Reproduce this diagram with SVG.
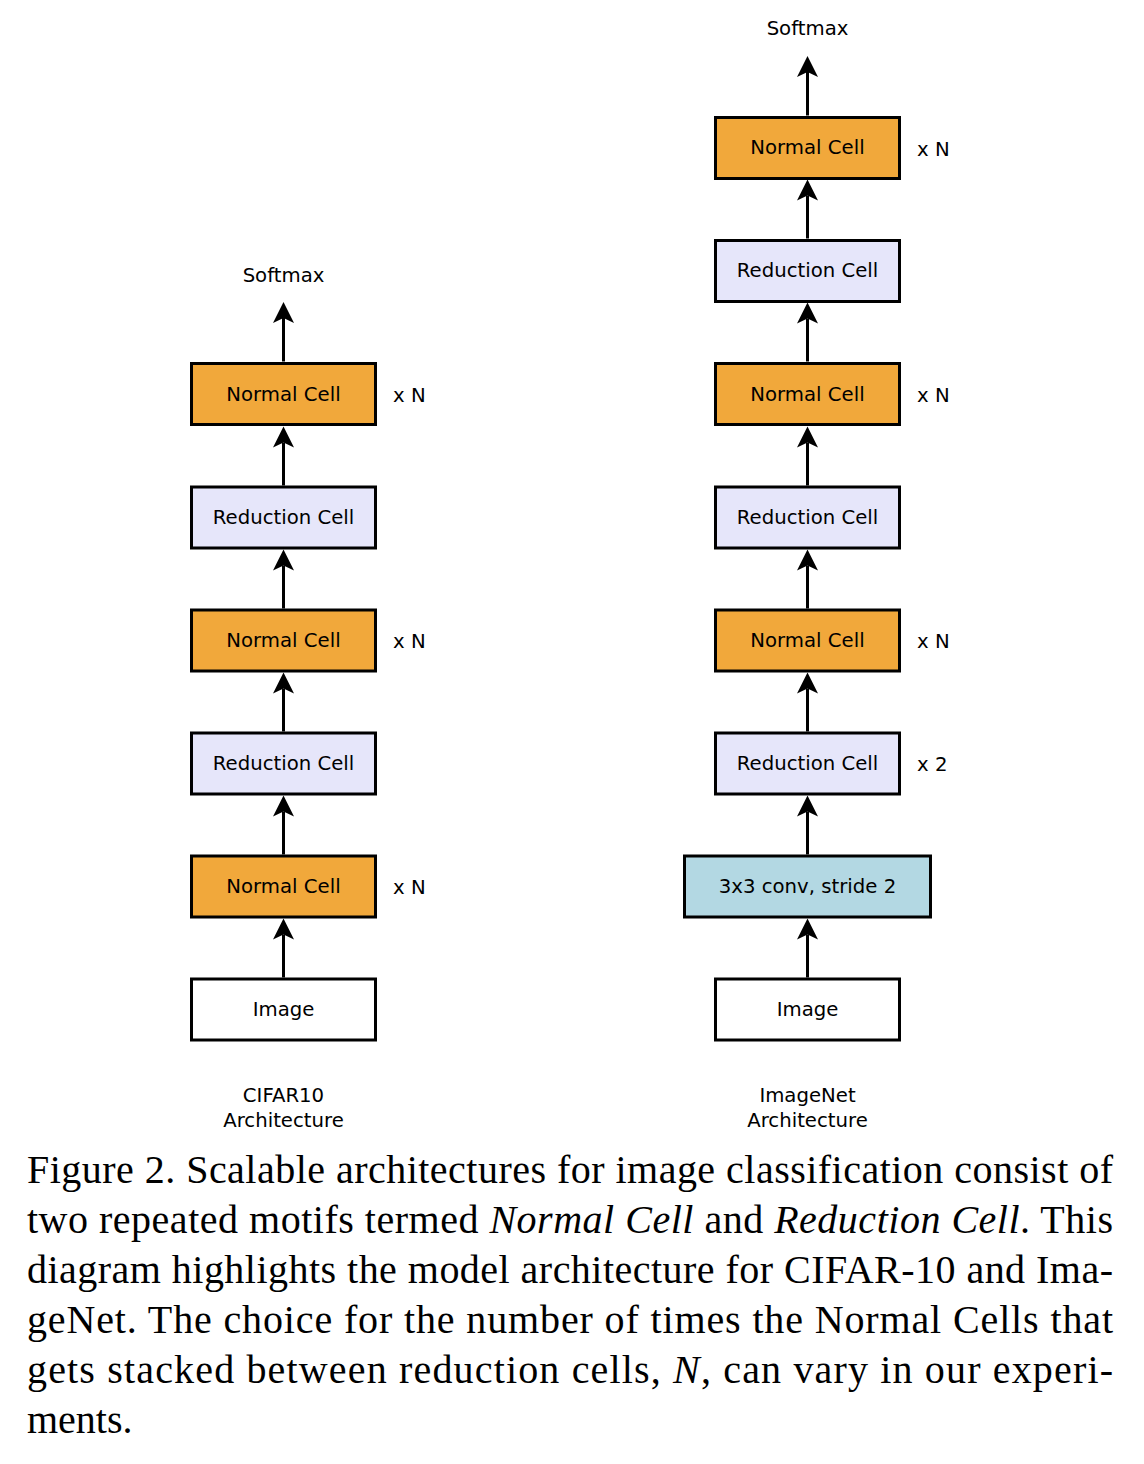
<svg xmlns="http://www.w3.org/2000/svg" width="1144" height="1464" viewBox="0 0 1144 1464">
<style>
.box{stroke:#000;stroke-width:3}
.normal{fill:#F1A83B}
.reduction{fill:#E6E6FA}
.conv{fill:#B3D8E3}
.image{fill:#FFFFFF}
.lbl{font-family:"DejaVu Sans",sans-serif;font-size:19.7px;fill:#000;text-anchor:middle}
.side{font-family:"DejaVu Sans",sans-serif;font-size:19.7px;fill:#000}
.cap{font-family:"Liberation Serif","Times New Roman",serif;font-size:40px;fill:#000}
.conn{stroke:#000;stroke-width:3;fill:none}
</style>
<defs>
<marker id="arr" markerUnits="userSpaceOnUse" markerWidth="24" markerHeight="24" viewBox="0 -12 24 24" refX="5" refY="0" orient="auto">
<path d="M21,0 L0,-10.5 L5,0 L0,10.5 Z" fill="#000"/>
</marker>
</defs>
<rect width="1144" height="1464" fill="#fff"/>

<g id="connectors">
<line class="conn" x1="283.5" y1="977.5" x2="283.5" y2="934.5" marker-end="url(#arr)"/>
<line class="conn" x1="283.5" y1="854.5" x2="283.5" y2="811.5" marker-end="url(#arr)"/>
<line class="conn" x1="283.5" y1="731.5" x2="283.5" y2="688.5" marker-end="url(#arr)"/>
<line class="conn" x1="283.5" y1="608.5" x2="283.5" y2="565.5" marker-end="url(#arr)"/>
<line class="conn" x1="283.5" y1="485.5" x2="283.5" y2="442.5" marker-end="url(#arr)"/>
<line class="conn" x1="283.5" y1="361.5" x2="283.5" y2="318" marker-end="url(#arr)"/>
<line class="conn" x1="807.5" y1="977.5" x2="807.5" y2="934.5" marker-end="url(#arr)"/>
<line class="conn" x1="807.5" y1="854.5" x2="807.5" y2="811.5" marker-end="url(#arr)"/>
<line class="conn" x1="807.5" y1="731.5" x2="807.5" y2="688.5" marker-end="url(#arr)"/>
<line class="conn" x1="807.5" y1="608.5" x2="807.5" y2="565.5" marker-end="url(#arr)"/>
<line class="conn" x1="807.5" y1="485.5" x2="807.5" y2="442.5" marker-end="url(#arr)"/>
<line class="conn" x1="807.5" y1="361.5" x2="807.5" y2="318.5" marker-end="url(#arr)"/>
<line class="conn" x1="807.5" y1="238.5" x2="807.5" y2="195.5" marker-end="url(#arr)"/>
<line class="conn" x1="807.5" y1="115.5" x2="807.5" y2="72" marker-end="url(#arr)"/>
</g>

<g id="cifar-softmax"><text class="lbl" x="283.5" y="282">Softmax</text></g>
<g id="cifar-normal3"><rect class="box normal" x="191.5" y="363.5" width="184" height="61"/><text class="lbl" x="283.5" y="401">Normal Cell</text><text class="side" x="393" y="402">x N</text></g>
<g id="cifar-reduction2"><rect class="box reduction" x="191.5" y="487" width="184" height="61"/><text class="lbl" x="283.5" y="524">Reduction Cell</text></g>
<g id="cifar-normal2"><rect class="box normal" x="191.5" y="610" width="184" height="61"/><text class="lbl" x="283.5" y="647">Normal Cell</text><text class="side" x="393" y="648">x N</text></g>
<g id="cifar-reduction1"><rect class="box reduction" x="191.5" y="733" width="184" height="61"/><text class="lbl" x="283.5" y="770">Reduction Cell</text></g>
<g id="cifar-normal1"><rect class="box normal" x="191.5" y="856" width="184" height="61"/><text class="lbl" x="283.5" y="893">Normal Cell</text><text class="side" x="393" y="894">x N</text></g>
<g id="cifar-image"><rect class="box image" x="191.5" y="979" width="184" height="61"/><text class="lbl" x="283.5" y="1016">Image</text></g>
<g id="cifar-title"><text class="lbl" x="283.5" y="1102">CIFAR10</text><text class="lbl" x="283.5" y="1127">Architecture</text></g>

<g id="imagenet-softmax"><text class="lbl" x="807.5" y="35">Softmax</text></g>
<g id="imagenet-normal3"><rect class="box normal" x="715.5" y="117.5" width="184" height="61"/><text class="lbl" x="807.5" y="154">Normal Cell</text><text class="side" x="917" y="156">x N</text></g>
<g id="imagenet-reduction3"><rect class="box reduction" x="715.5" y="240.5" width="184" height="61"/><text class="lbl" x="807.5" y="277">Reduction Cell</text></g>
<g id="imagenet-normal2"><rect class="box normal" x="715.5" y="363.5" width="184" height="61"/><text class="lbl" x="807.5" y="401">Normal Cell</text><text class="side" x="917" y="402">x N</text></g>
<g id="imagenet-reduction2"><rect class="box reduction" x="715.5" y="487" width="184" height="61"/><text class="lbl" x="807.5" y="524">Reduction Cell</text></g>
<g id="imagenet-normal1"><rect class="box normal" x="715.5" y="610" width="184" height="61"/><text class="lbl" x="807.5" y="647">Normal Cell</text><text class="side" x="917" y="648">x N</text></g>
<g id="imagenet-reduction1"><rect class="box reduction" x="715.5" y="733" width="184" height="61"/><text class="lbl" x="807.5" y="770">Reduction Cell</text><text class="side" x="917" y="771">x 2</text></g>
<g id="imagenet-conv"><rect class="box conv" x="684.5" y="856" width="246" height="61"/><text class="lbl" x="807.5" y="893">3x3 conv, stride 2</text></g>
<g id="imagenet-image"><rect class="box image" x="715.5" y="979" width="184" height="61"/><text class="lbl" x="807.5" y="1016">Image</text></g>
<g id="imagenet-title"><text class="lbl" x="807.5" y="1102">ImageNet</text><text class="lbl" x="807.5" y="1127">Architecture</text></g>

<g id="caption">
<text class="cap" x="27" y="1183" textLength="1086" lengthAdjust="spacing">Figure 2. Scalable architectures for image classification consist of</text>
<text class="cap" x="27" y="1233" textLength="1086" lengthAdjust="spacing">two repeated motifs termed <tspan font-style="italic">Normal Cell</tspan> and <tspan font-style="italic">Reduction Cell</tspan>. This</text>
<text class="cap" x="27" y="1283" textLength="1086" lengthAdjust="spacing">diagram highlights the model architecture for CIFAR-10 and Ima-</text>
<text class="cap" x="27" y="1333" textLength="1086" lengthAdjust="spacing">geNet. The choice for the number of times the Normal Cells that</text>
<text class="cap" x="27" y="1383" textLength="1086" lengthAdjust="spacing">gets stacked between reduction cells, <tspan font-style="italic">N</tspan>, can vary in our experi-</text>
<text class="cap" x="27" y="1433">ments.</text>
</g>
</svg>
